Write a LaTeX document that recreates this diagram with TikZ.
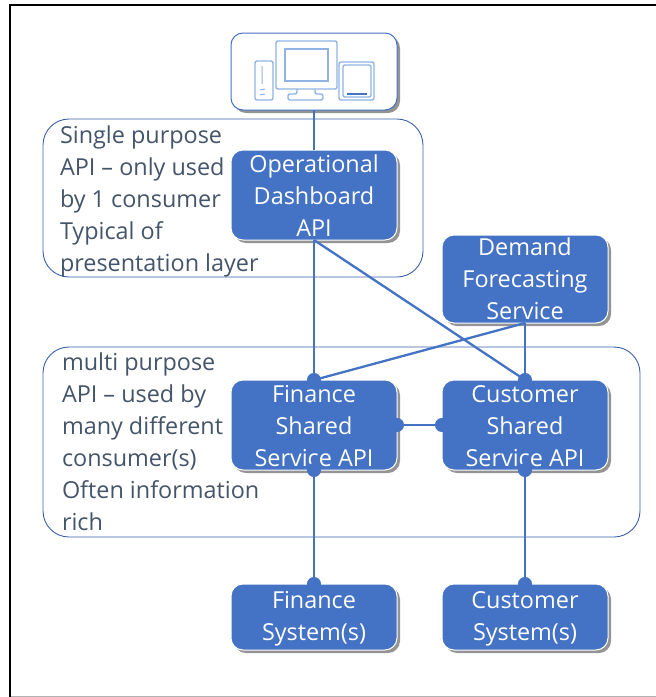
\documentclass[tikz,border=0pt]{standalone}
\usepackage{fontspec}
\setmainfont{Open Sans}
\usetikzlibrary{arrows.meta,shadows}
\definecolor{boxblue}{HTML}{4472C4}
\definecolor{regionblue}{HTML}{3A5FA8}
\definecolor{textgrey}{HTML}{44546A}
\definecolor{iconblue}{HTML}{8FB4E3}
\newcommand{\boxstrut}{\rule{0pt}{18.5pt}}
\begin{document}
\begin{tikzpicture}[x=1pt,y=-1pt,shorten >=0pt]
\tikzstyle{every node}=[font=\fontsize{23.4}{32}\selectfont,inner sep=0pt,outer sep=0pt]
\tikzstyle{box}=[rectangle,rounded corners=12pt,fill=boxblue,draw=white,line width=1pt,text=white,align=center,minimum width=166pt,drop shadow={shadow xshift=3pt,shadow yshift=-3pt,opacity=.6,fill=black!70}]
\tikzstyle{region}=[rectangle,rounded corners=26pt,draw=regionblue,line width=.9pt]
\tikzstyle{note}=[anchor=north west,text=textgrey,align=left]
\tikzstyle{link}=[draw=boxblue,line width=2.3pt]
\tikzstyle{dotted end}=[-{Circle[length=14pt,width=14pt]},shorten >=-7pt]
\tikzstyle{dotted both}=[{Circle[length=14pt,width=14pt]}-{Circle[length=14pt,width=14pt]},shorten >=-7pt,shorten <=-7pt]
\tikzstyle{icon}=[draw=iconblue,line width=1.4pt,rounded corners=2pt]
\useasboundingbox (0,0) rectangle (656,697);
% frame of the screenshot
\draw[line width=2.4pt] (10,697) -- (10,5) -- (656,5);
\draw[black!30,line width=1pt] (11,696) -- (656,696);
% regions
\node [region,minimum width=380pt,minimum height=158pt] (single) at (233,198) {};
\node [region,minimum width=597pt,minimum height=190pt] (multi) at (341.5,442) {};
\node [note] (singletext) at (60,126) {Single purpose\\API -- only used\\by 1 consumer\\Typical of\\presentation layer};
\node [note] (multitext) at (62,353) {multi purpose\\API -- used by\\many different\\consumer(s)\\Often information\\rich};
% boxes
\node [box,fill=white,draw=boxblue,line width=1pt,minimum height=77pt] (devices) at (314,71.5) {};
\node [box,minimum height=90pt] (op) at (314,195) {\boxstrut Operational\\Dashboard\\API};
\node [box,minimum height=88pt] (demand) at (525,279) {Demand\\Forecasting\\Service};
\node [box,minimum height=90pt] (fin) at (314,425) {\boxstrut Finance\\Shared\\Service API};
\node [box,minimum height=90pt] (cust) at (525,425) {\boxstrut Customer\\Shared\\Service API};
\node [box,minimum height=66pt] (finsys) at (314,617) {\rule{0pt}{20pt}Finance\\System\smash{(s)}};
\node [box,minimum height=66pt] (custsys) at (525,617) {\rule{0pt}{20pt}Customer\\System\smash{(s)}};
% devices icon
\draw [icon] (276,41) rectangle (337,89);
\draw [icon,rounded corners=0pt] (285,49) rectangle (328,81);
\draw [icon] (297,89) -- (297,94) -- (288,94) -- (288,100) -- (323,100) -- (323,94) -- (315,94) -- (315,89);
\draw [icon] (255,61) rectangle (273,100);
\draw [icon,line width=1pt] (262,66) -- (262,84) (260,90) -- (265,89) (260,95) -- (265,94);
\draw [icon] (339,62) rectangle (374,100);
\draw [icon] (343,65) rectangle (371,97);
\draw [boxblue,line width=1.2pt] (347,94) -- (367,94);
% connectors
\path [link] (devices.south) edge (op.north);
\path [link] (op.south) edge (cust.north);
\path [link] (demand.south) edge (fin.north);
\draw [link,dotted both] (fin.east) -- (cust.west);
\draw [link,dotted both] (fin.south) -- (finsys.north);
\draw [link,dotted both] (cust.south) -- (custsys.north);
\draw [link,dotted end] (op.south) -- (fin.north);
\draw [link,dotted end] (demand.south) -- (cust.north);
\end{tikzpicture}
\end{document}
